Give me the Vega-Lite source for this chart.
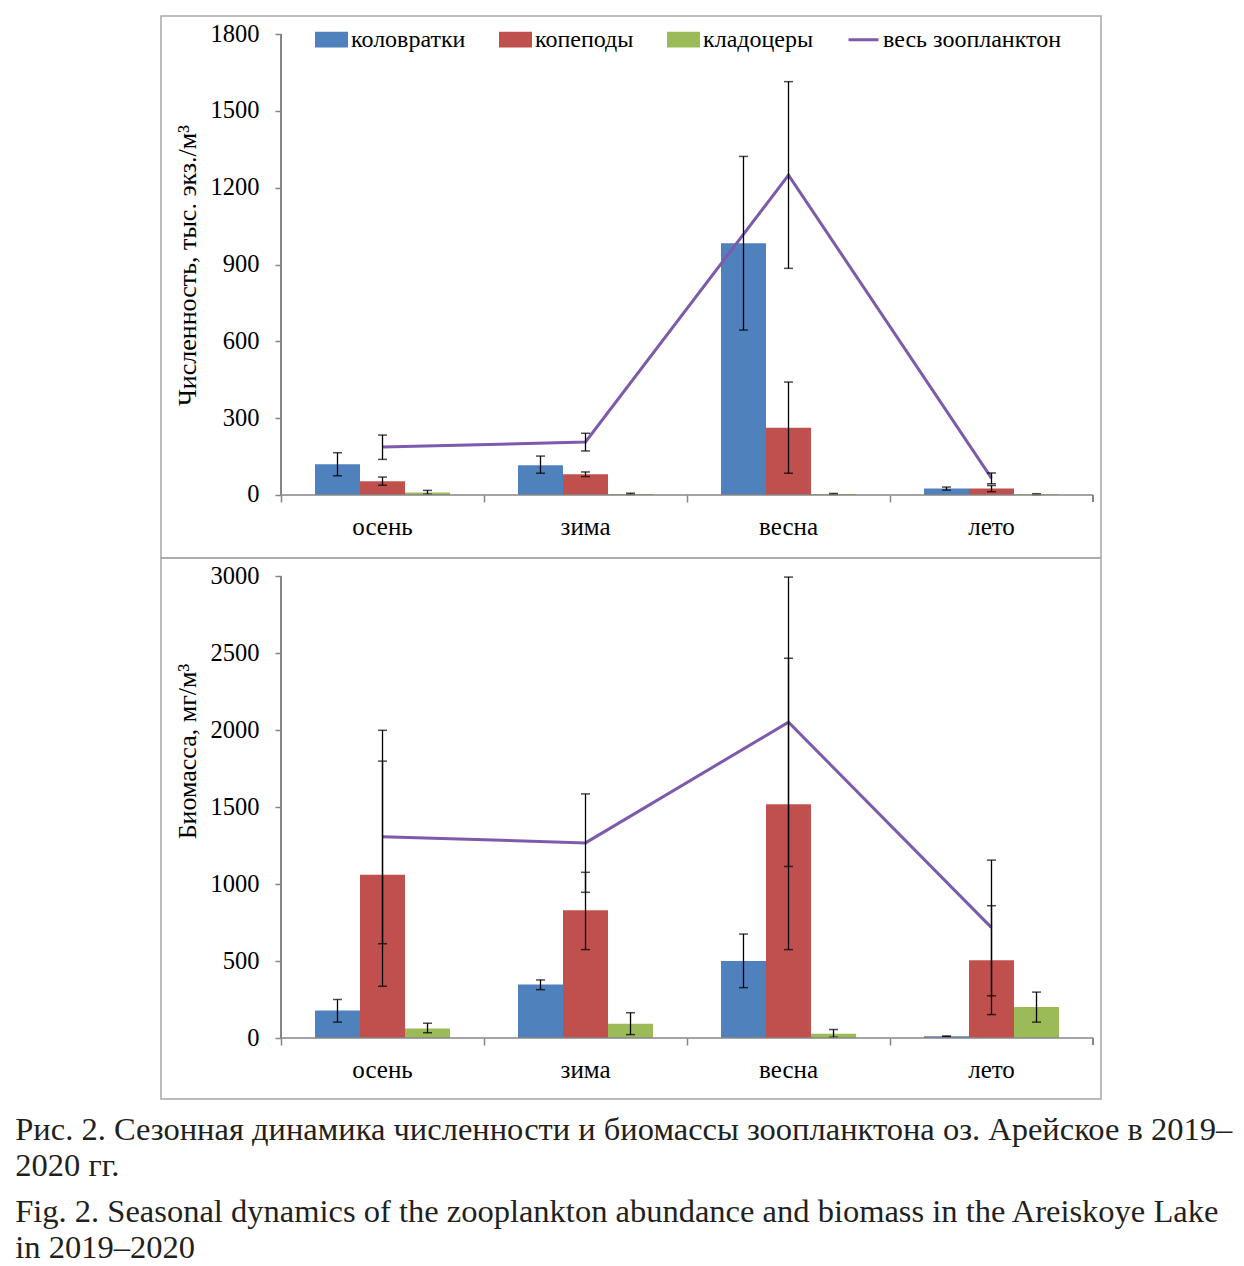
{
  "$schema": "https://vega.github.io/schema/vega-lite/v6.json",
  "background": "white",
  "padding": {"left": 15, "top": 15, "right": 0, "bottom": 0},
  "datasets": {
    "abund": [
      {"season": "осень", "group": "коловратки", "value": 120, "lo": 75, "hi": 165},
      {"season": "осень", "group": "копеподы", "value": 54, "lo": 38, "hi": 70},
      {"season": "осень", "group": "кладоцеры", "value": 10, "lo": 3, "hi": 18},
      {"season": "осень", "group": "весь зоопланктон", "value": 187, "lo": 139, "hi": 234},
      {"season": "зима", "group": "коловратки", "value": 116, "lo": 85, "hi": 152},
      {"season": "зима", "group": "копеподы", "value": 81, "lo": 72, "hi": 90},
      {"season": "зима", "group": "кладоцеры", "value": 4, "lo": 2, "hi": 7},
      {"season": "зима", "group": "весь зоопланктон", "value": 207, "lo": 172, "hi": 241},
      {"season": "весна", "group": "коловратки", "value": 983, "lo": 644, "hi": 1322},
      {"season": "весна", "group": "копеподы", "value": 263, "lo": 85, "hi": 441},
      {"season": "весна", "group": "кладоцеры", "value": 4, "lo": 2, "hi": 6},
      {"season": "весна", "group": "весь зоопланктон", "value": 1249, "lo": 885, "hi": 1614},
      {"season": "лето", "group": "коловратки", "value": 25, "lo": 19, "hi": 31},
      {"season": "лето", "group": "копеподы", "value": 25, "lo": 13, "hi": 37},
      {"season": "лето", "group": "кладоцеры", "value": 3, "lo": 1, "hi": 5},
      {"season": "лето", "group": "весь зоопланктон", "value": 66, "lo": 44, "hi": 86}
    ],
    "biom": [
      {"season": "осень", "group": "коловратки", "value": 179, "lo": 103, "hi": 250},
      {"season": "осень", "group": "копеподы", "value": 1060, "lo": 336, "hi": 1798},
      {"season": "осень", "group": "кладоцеры", "value": 62, "lo": 34, "hi": 96},
      {"season": "осень", "group": "весь зоопланктон", "value": 1307, "lo": 612, "hi": 1998},
      {"season": "зима", "group": "коловратки", "value": 348, "lo": 314, "hi": 377},
      {"season": "зима", "group": "копеподы", "value": 830, "lo": 574, "hi": 1076},
      {"season": "зима", "group": "кладоцеры", "value": 92, "lo": 22, "hi": 164},
      {"season": "зима", "group": "весь зоопланктон", "value": 1267, "lo": 946, "hi": 1585},
      {"season": "весна", "group": "коловратки", "value": 500, "lo": 327, "hi": 675},
      {"season": "весна", "group": "копеподы", "value": 1518, "lo": 574, "hi": 2466},
      {"season": "весна", "group": "кладоцеры", "value": 28, "lo": 5, "hi": 55},
      {"season": "весна", "group": "весь зоопланктон", "value": 2051, "lo": 1114, "hi": 2993},
      {"season": "лето", "group": "коловратки", "value": 11, "lo": 9, "hi": 13},
      {"season": "лето", "group": "копеподы", "value": 505, "lo": 152, "hi": 859},
      {"season": "лето", "group": "кладоцеры", "value": 202, "lo": 103, "hi": 298},
      {"season": "лето", "group": "весь зоопланктон", "value": 717, "lo": 274, "hi": 1155}
    ]
  },
  "title": {
    "text": ["Рис. 2. Сезонная динамика численности и биомассы зоопланктона оз. Арейское в 2019–", "2020 гг."],
    "subtitle": ["Fig. 2. Seasonal dynamics of the zooplankton abundance and biomass in the Areiskoye Lake", "in 2019–2020"],
    "orient": "bottom",
    "anchor": "start",
    "dx": -145,
    "offset": 14,
    "font": "Liberation Serif",
    "fontSize": 32.5,
    "fontWeight": "normal",
    "color": "#231f20",
    "lineHeight": 36,
    "subtitleFont": "Liberation Serif",
    "subtitleFontSize": 32.5,
    "subtitleColor": "#231f20",
    "subtitleLineHeight": 36,
    "subtitlePadding": 14
  },
  "spacing": 0,
  "bounds": "flush",
  "resolve": {"legend": {"color": "independent"}},
  "vconcat": [
    {
      "width": 940,
      "height": 542,
      "data": {"name": "abund"},
      "encoding": {
        "x": {
          "field": "season", "type": "nominal", "sort": ["осень", "зима", "весна", "лето"],
          "scale": {"paddingInner": 0, "paddingOuter": 0.3153, "align": 0.9375},
          "axis": {"title": null, "domain": false, "offset": -63, "bandPosition": 0, "tickSize": 7, "tickColor": "#868686", "tickWidth": 1.5, "labelPadding": 12, "labelAngle": 0, "labelFont": "Liberation Serif", "labelFontSize": 25, "labelColor": "#000"}
        }
      },
      "layer": [
        {
          "transform": [{"filter": "datum.group !== 'весь зоопланктон'"}],
          "mark": {"type": "bar"},
          "encoding": {
            "xOffset": {"field": "group", "type": "nominal", "sort": ["коловратки", "копеподы", "кладоцеры"], "scale": {"paddingInner": 0, "paddingOuter": 0.755}},
            "y": {"field": "value", "type": "quantitative",
              "scale": {"domain": [-246, 1870.3], "nice": false, "zero": false},
              "axis": {"title": "Численность, тыс. экз./м³", "values": [0, 300, 600, 900, 1200, 1500, 1800], "format": "d", "domain": false, "grid": false, "offset": -120, "tickSize": 6, "tickColor": "#868686", "tickWidth": 1.5, "labelPadding": 16, "labelFont": "Liberation Serif", "labelFontSize": 24.5, "labelColor": "#000", "titleFont": "Liberation Serif", "titleFontSize": 26, "titleFontWeight": "normal", "titleColor": "#000", "titleY": 249, "titlePadding": 10}},
            "color": {
              "field": "group", "type": "nominal",
              "scale": {"domain": ["коловратки", "копеподы", "кладоцеры", "весь зоопланктон"], "range": ["#4F81BD", "#C0504D", "#9BBB59", "#7D5AAB"]},
              "legend": {
                "title": null, "orient": "none", "legendX": 154, "legendY": 7, "direction": "horizontal",
                "padding": 0, "columnPadding": 28, "labelOffset": 3, "labelLimit": 400,
                "labelFont": "Liberation Serif", "labelFontSize": 24, "labelColor": "#000",
                "symbolSize": 900,
                "encode": {"symbols": {"update": {
                  "shape": {"signal": "datum.value === 'весь зоопланктон' ? 'M-1,0H1' : 'M-1,-0.42H1V0.42H-1Z'"},
                  "fill": {"signal": "datum.value === 'весь зоопланктон' ? 'transparent' : scale('color', datum.value)"},
                  "stroke": {"signal": "datum.value === 'весь зоопланктон' ? '#7D5AAB' : 'transparent'"},
                  "strokeWidth": {"value": 3},
                  "size": {"value": 900},
                  "opacity": {"value": 1}
                }}}
              }
            }
          }
        },
        {
          "mark": {"type": "line", "color": "#7D5AAB", "strokeWidth": 3},
          "transform": [{"filter": "datum.group === 'весь зоопланктон'"}],
          "encoding": {"y": {"field": "value", "type": "quantitative"}, "color": {"datum": "весь зоопланктон"}}
        },
        {
          "transform": [{"filter": "datum.group !== 'весь зоопланктон'"}],
          "mark": {"type": "rule", "color": "#000", "strokeWidth": 1.3},
          "encoding": {"xOffset": {"field": "group", "type": "nominal", "sort": ["коловратки", "копеподы", "кладоцеры"]}, "y": {"field": "lo", "type": "quantitative"}, "y2": {"field": "hi"}}
        },
        {
          "transform": [{"filter": "datum.group !== 'весь зоопланктон'"}],
          "mark": {"type": "tick", "color": "#000", "size": 9, "thickness": 1.5, "orient": "horizontal"},
          "encoding": {"xOffset": {"field": "group", "type": "nominal", "sort": ["коловратки", "копеподы", "кладоцеры"]}, "y": {"field": "lo", "type": "quantitative"}}
        },
        {
          "transform": [{"filter": "datum.group !== 'весь зоопланктон'"}],
          "mark": {"type": "tick", "color": "#000", "size": 9, "thickness": 1.5, "orient": "horizontal"},
          "encoding": {"xOffset": {"field": "group", "type": "nominal", "sort": ["коловратки", "копеподы", "кладоцеры"]}, "y": {"field": "hi", "type": "quantitative"}}
        },
        {
          "transform": [{"filter": "datum.group === 'весь зоопланктон'"}],
          "mark": {"type": "rule", "color": "#000", "strokeWidth": 1.3},
          "encoding": {"y": {"field": "lo", "type": "quantitative"}, "y2": {"field": "hi"}}
        },
        {
          "transform": [{"filter": "datum.group === 'весь зоопланктон'"}],
          "mark": {"type": "tick", "color": "#000", "size": 9, "thickness": 1.5, "orient": "horizontal"},
          "encoding": {"y": {"field": "lo", "type": "quantitative"}}
        },
        {
          "transform": [{"filter": "datum.group === 'весь зоопланктон'"}],
          "mark": {"type": "tick", "color": "#000", "size": 9, "thickness": 1.5, "orient": "horizontal"},
          "encoding": {"y": {"field": "hi", "type": "quantitative"}}
        },
        {
          "transform": [{"filter": "datum.group === 'весь зоопланктон'"}],
          "mark": {"type": "bar", "fillOpacity": 0, "stroke": "#868686", "strokeWidth": 1.5},
          "encoding": {"y": {"datum": 0}, "y2": {"datum": 0}}
        },
        {
          "mark": {"type": "rule", "color": "#868686", "strokeWidth": 1.5},
          "encoding": {"x": {"datum": "осень", "bandPosition": 0}, "y": {"datum": 0}, "y2": {"datum": 1800}}
        },
        {
          "mark": {"type": "rule", "color": "#868686", "strokeWidth": 1.5},
          "encoding": {"x": {"datum": "лето", "bandPosition": 1}, "y": {"datum": 0}, "y2": {"datum": -27}}
        }
      ]
    },
    {
      "width": 940,
      "height": 541,
      "data": {"name": "biom"},
      "encoding": {
        "x": {
          "field": "season", "type": "nominal", "sort": ["осень", "зима", "весна", "лето"],
          "scale": {"paddingInner": 0, "paddingOuter": 0.3153, "align": 0.9375},
          "axis": {"title": null, "domain": false, "offset": -61, "bandPosition": 0, "tickSize": 7, "tickColor": "#868686", "tickWidth": 1.5, "labelPadding": 12, "labelAngle": 0, "labelFont": "Liberation Serif", "labelFontSize": 25, "labelColor": "#000"}
        }
      },
      "layer": [
        {
          "transform": [{"filter": "datum.group !== 'весь зоопланктон'"}],
          "mark": {"type": "bar"},
          "encoding": {
            "xOffset": {"field": "group", "type": "nominal", "sort": ["коловратки", "копеподы", "кладоцеры"], "scale": {"paddingInner": 0, "paddingOuter": 0.755}},
            "y": {"field": "value", "type": "quantitative",
              "scale": {"domain": [-396.1, 3116.9], "nice": false, "zero": false},
              "axis": {"title": "Биомасса, мг/м³", "values": [0, 500, 1000, 1500, 2000, 2500, 3000], "format": "d", "domain": false, "grid": false, "offset": -120, "tickSize": 6, "tickColor": "#868686", "tickWidth": 1.5, "labelPadding": 16, "labelFont": "Liberation Serif", "labelFontSize": 24.5, "labelColor": "#000", "titleFont": "Liberation Serif", "titleFontSize": 26, "titleFontWeight": "normal", "titleColor": "#000", "titleY": 193, "titlePadding": 10}},
            "color": {
              "field": "group", "type": "nominal",
              "scale": {"domain": ["коловратки", "копеподы", "кладоцеры", "весь зоопланктон"], "range": ["#4F81BD", "#C0504D", "#9BBB59", "#7D5AAB"]},
              "legend": null
            }
          }
        },
        {
          "mark": {"type": "line", "color": "#7D5AAB", "strokeWidth": 3},
          "transform": [{"filter": "datum.group === 'весь зоопланктон'"}],
          "encoding": {"y": {"field": "value", "type": "quantitative"}, "color": {"datum": "весь зоопланктон", "legend": null}}
        },
        {
          "transform": [{"filter": "datum.group !== 'весь зоопланктон'"}],
          "mark": {"type": "rule", "color": "#000", "strokeWidth": 1.3},
          "encoding": {"xOffset": {"field": "group", "type": "nominal", "sort": ["коловратки", "копеподы", "кладоцеры"]}, "y": {"field": "lo", "type": "quantitative"}, "y2": {"field": "hi"}}
        },
        {
          "transform": [{"filter": "datum.group !== 'весь зоопланктон'"}],
          "mark": {"type": "tick", "color": "#000", "size": 9, "thickness": 1.5, "orient": "horizontal"},
          "encoding": {"xOffset": {"field": "group", "type": "nominal", "sort": ["коловратки", "копеподы", "кладоцеры"]}, "y": {"field": "lo", "type": "quantitative"}}
        },
        {
          "transform": [{"filter": "datum.group !== 'весь зоопланктон'"}],
          "mark": {"type": "tick", "color": "#000", "size": 9, "thickness": 1.5, "orient": "horizontal"},
          "encoding": {"xOffset": {"field": "group", "type": "nominal", "sort": ["коловратки", "копеподы", "кладоцеры"]}, "y": {"field": "hi", "type": "quantitative"}}
        },
        {
          "transform": [{"filter": "datum.group === 'весь зоопланктон'"}],
          "mark": {"type": "rule", "color": "#000", "strokeWidth": 1.3},
          "encoding": {"y": {"field": "lo", "type": "quantitative"}, "y2": {"field": "hi"}}
        },
        {
          "transform": [{"filter": "datum.group === 'весь зоопланктон'"}],
          "mark": {"type": "tick", "color": "#000", "size": 9, "thickness": 1.5, "orient": "horizontal"},
          "encoding": {"y": {"field": "lo", "type": "quantitative"}}
        },
        {
          "transform": [{"filter": "datum.group === 'весь зоопланктон'"}],
          "mark": {"type": "tick", "color": "#000", "size": 9, "thickness": 1.5, "orient": "horizontal"},
          "encoding": {"y": {"field": "hi", "type": "quantitative"}}
        },
        {
          "transform": [{"filter": "datum.group === 'весь зоопланктон'"}],
          "mark": {"type": "bar", "fillOpacity": 0, "stroke": "#868686", "strokeWidth": 1.5},
          "encoding": {"y": {"datum": 0}, "y2": {"datum": 0}}
        },
        {
          "mark": {"type": "rule", "color": "#868686", "strokeWidth": 1.5},
          "encoding": {"x": {"datum": "осень", "bandPosition": 0}, "y": {"datum": 0}, "y2": {"datum": 3000}}
        },
        {
          "mark": {"type": "rule", "color": "#868686", "strokeWidth": 1.5},
          "encoding": {"x": {"datum": "лето", "bandPosition": 1}, "y": {"datum": 0}, "y2": {"datum": -45}}
        }
      ]
    }
  ],
  "config": {
    "view": {"stroke": "#a6a6a6", "strokeWidth": 1.5},
    "axis": {"labelFont": "Liberation Serif"}
  }
}
